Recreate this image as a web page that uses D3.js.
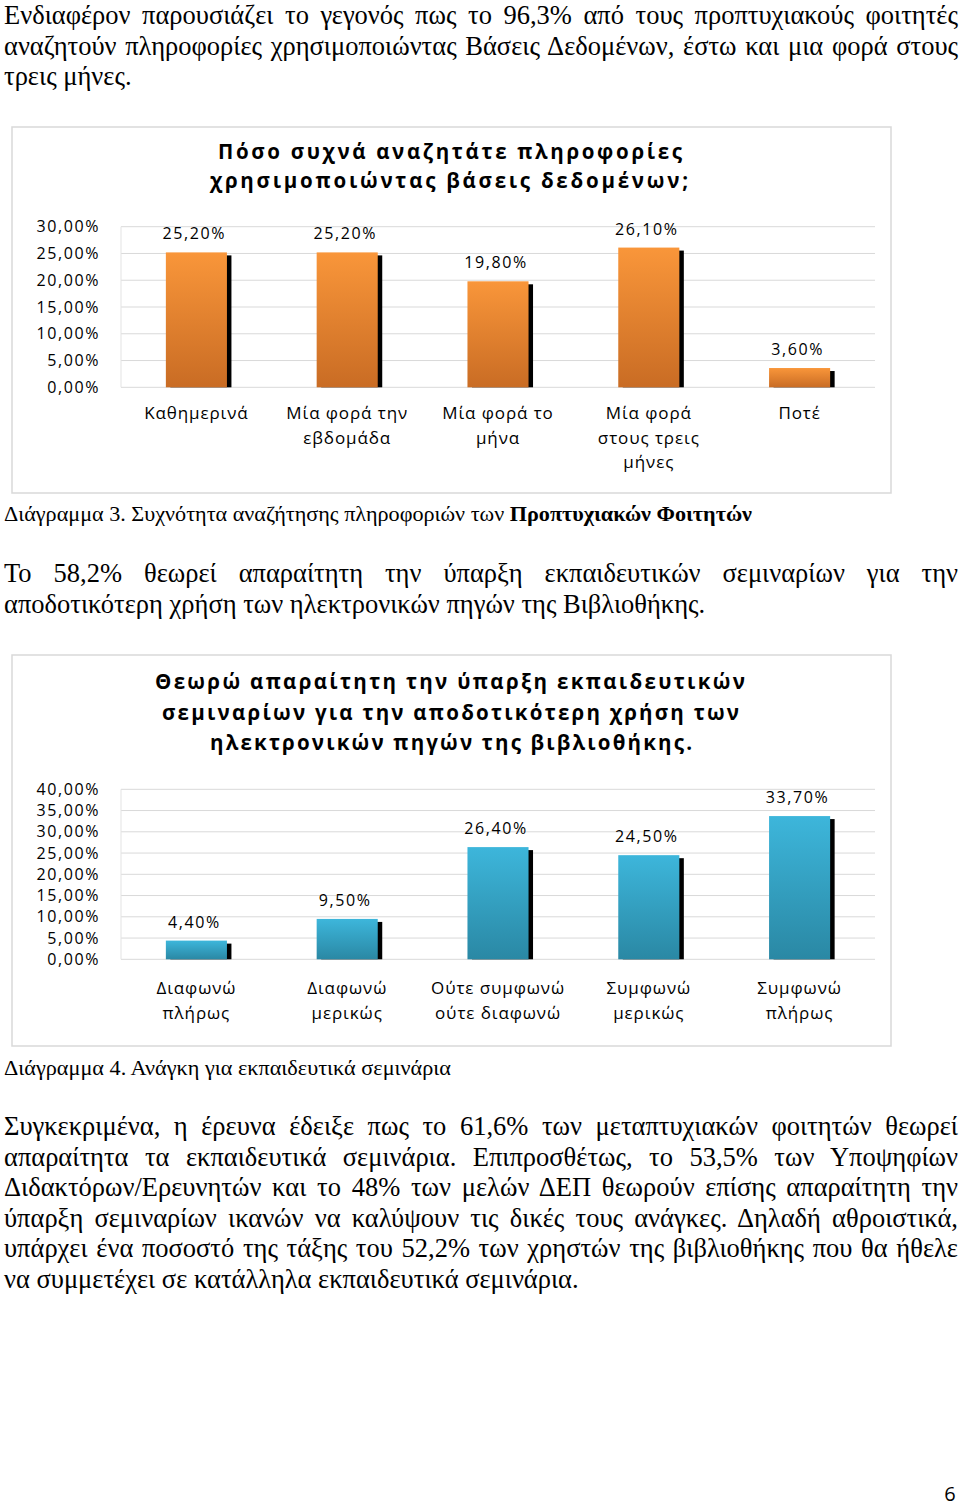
<!DOCTYPE html>
<html>
<head>
<meta charset="utf-8">
<script src="https://cdn.jsdelivr.net/npm/d3@7"></script>
<style>
  body { margin: 0; background: #fff; }
  svg { display: block; }
  .para { font-family: "Liberation Serif", "DejaVu Serif", serif; font-size: 26.5px; fill: #000; }
  .cap { font-family: "Liberation Serif", serif; font-size: 21px; fill: #000; }
  .chart text { font-family: "Open Sans", "DejaVu Sans", sans-serif; fill: #000; }
</style>
</head>
<body>
<div id="page"></div>
<script>
var para1 = [
  "Ενδιαφέρον παρουσιάζει το γεγονός πως το 96,3% από τους προπτυχιακούς φοιτητές",
  "αναζητούν πληροφορίες χρησιμοποιώντας Βάσεις Δεδομένων, έστω και μια φορά στους",
  "τρεις μήνες."
];
var para2 = [
  "Το 58,2% θεωρεί απαραίτητη την ύπαρξη εκπαιδευτικών σεμιναρίων για την",
  "αποδοτικότερη χρήση των ηλεκτρονικών πηγών της Βιβλιοθήκης."
];
var para3 = [
  "Συγκεκριμένα, η έρευνα έδειξε πως το 61,6% των μεταπτυχιακών φοιτητών θεωρεί",
  "απαραίτητα τα εκπαιδευτικά σεμινάρια. Επιπροσθέτως, το 53,5% των Υποψηφίων",
  "Διδακτόρων/Ερευνητών και το 48% των μελών ΔΕΠ θεωρούν επίσης απαραίτητη την",
  "ύπαρξη σεμιναρίων ικανών να καλύψουν τις δικές τους ανάγκες. Δηλαδή αθροιστικά,",
  "υπάρχει ένα ποσοστό της τάξης του 52,2% των χρηστών της βιβλιοθήκης που θα ήθελε",
  "να συμμετέχει σε κατάλληλα εκπαιδευτικά σεμινάρια."
];

var title1 = ["Πόσο συχνά αναζητάτε πληροφορίες", "χρησιμοποιώντας βάσεις δεδομένων;"];
var cats1 = [["Καθημερινά"], ["Μία φορά την", "εβδομάδα"], ["Μία φορά το", "μήνα"],
             ["Μία φορά", "στους τρεις", "μήνες"], ["Ποτέ"]];
var values1 = [25.2, 25.2, 19.8, 26.1, 3.6];
var ticks1 = [0, 5, 10, 15, 20, 25, 30];

var title2 = ["Θεωρώ απαραίτητη την ύπαρξη εκπαιδευτικών",
              "σεμιναρίων για την αποδοτικότερη χρήση των",
              "ηλεκτρονικών πηγών της βιβλιοθήκης."];
var cats2 = [["Διαφωνώ", "πλήρως"], ["Διαφωνώ", "μερικώς"], ["Ούτε συμφωνώ", "ούτε διαφωνώ"],
             ["Συμφωνώ", "μερικώς"], ["Συμφωνώ", "πλήρως"]];
var values2 = [4.4, 9.5, 26.4, 24.5, 33.7];
var ticks2 = [0, 5, 10, 15, 20, 25, 30, 35, 40];

var W = 960, H = 1508;
var svg = d3.select("#page").append("svg").attr("width", W).attr("height", H);

var defs = svg.append("defs");
function addGrad(id, top, bottom) {
  var g = defs.append("linearGradient").attr("id", id)
    .attr("x1", 0).attr("y1", 0).attr("x2", 0).attr("y2", 1);
  g.append("stop").attr("offset", "0%").attr("stop-color", top);
  g.append("stop").attr("offset", "100%").attr("stop-color", bottom);
}
addGrad("orange", "#f9963a", "#c96c24");
addGrad("blue", "#3db6db", "#2a88a4");

function fmt(v) {
  return v.toFixed(2).replace(".", ",") + "%";
}

// justified paragraph lines
function paragraph(lines, y0, lh) {
  lines.forEach(function(line, i) {
    var t = svg.append("text").attr("class", "para")
      .attr("x", 4).attr("y", y0 + i * lh).text(line);
    if (i < lines.length - 1) {
      var len = t.node().getComputedTextLength();
      var n = line.split(" ").length - 1;
      t.attr("word-spacing", (954 - len) / n);
    }
  });
}

paragraph(para1, 24, 30.5);
paragraph(para2, 582, 30.5);
paragraph(para3, 1135, 30.6);

function drawChart(opt) {
  var g = svg.append("g").attr("class", "chart");

  g.append("rect")
    .attr("x", opt.box[0]).attr("y", opt.box[1])
    .attr("width", opt.box[2] - opt.box[0]).attr("height", opt.box[3] - opt.box[1])
    .attr("fill", "#fff").attr("stroke", "#d9d9d9").attr("stroke-width", 1.5);

  opt.title.forEach(function(line, i) {
    g.append("text")
      .attr("x", opt.titleX[i][0]).attr("y", opt.titleY[i])
      .attr("textLength", opt.titleX[i][1] - opt.titleX[i][0])
      .attr("lengthAdjust", "spacing")
      .style("font-weight", "bold").style("font-size", "20.5px")
      .text(line);
  });

  var x = d3.scaleBand().domain(d3.range(opt.values.length)).range([121, 875]);
  var y = d3.scaleLinear().domain([0, d3.max(opt.ticks)]).range([opt.bottom, opt.top]);

  g.append("g").selectAll("line").data(opt.ticks).join("line")
    .attr("x1", 121).attr("x2", 875)
    .attr("y1", function(d) { return y(d); }).attr("y2", function(d) { return y(d); })
    .attr("stroke", "#d9d9d9").attr("stroke-width", 1);
  g.append("line").attr("x1", 121).attr("x2", 121)
    .attr("y1", y(d3.max(opt.ticks))).attr("y2", y(0))
    .attr("stroke", "#e3e3e3");

  var yAxis = d3.axisLeft(y).tickValues(opt.ticks).tickSize(0).tickPadding(0)
    .tickFormat(fmt);
  var ax = g.append("g").attr("transform", "translate(100,0)").call(yAxis);
  ax.select(".domain").remove();
  ax.selectAll("text")
    .style("font-family", "'Open Sans', sans-serif")
    .style("font-size", "16px").style("letter-spacing", "1.6px")
    .attr("fill", "#000");

  var bw = x.bandwidth() * 0.405;
  var bars = g.append("g").selectAll("g").data(opt.values).join("g");
  bars.append("rect")
    .attr("x", function(d, i) { return x(i) + x.bandwidth() / 2 - bw / 2 + 4.5; })
    .attr("y", function(d) { return y(d) + 3; })
    .attr("width", bw)
    .attr("height", function(d) { return Math.max(0, y(0) - y(d) - 3); })
    .attr("fill", "#000");
  bars.append("rect")
    .attr("x", function(d, i) { return x(i) + x.bandwidth() / 2 - bw / 2; })
    .attr("y", function(d) { return y(d); })
    .attr("width", bw)
    .attr("height", function(d) { return y(0) - y(d); })
    .attr("fill", "url(#" + opt.grad + ")");
  bars.append("text")
    .attr("x", function(d, i) { return x(i) + x.bandwidth() / 2 - 2; })
    .attr("y", function(d) { return y(d) - 13; })
    .attr("text-anchor", "middle")
    .style("font-size", "16px").style("letter-spacing", "1.6px")
    .text(function(d) { return fmt(d); });

  var labs = g.append("g").selectAll("text").data(opt.cats).join("text")
    .attr("text-anchor", "middle")
    .style("font-size", "17px").style("letter-spacing", "0.9px");
  labs.each(function(lines, i) {
    var t = d3.select(this);
    lines.forEach(function(l, j) {
      t.append("tspan")
        .attr("x", x(i) + x.bandwidth() / 2)
        .attr("y", opt.catY + j * 24.5)
        .text(l);
    });
  });
}

drawChart({
  box: [12, 127, 891, 493],
  title: title1,
  titleX: [[218, 682], [210, 688]],
  titleY: [159, 188],
  values: values1, ticks: ticks1, cats: cats1,
  top: 226.7, bottom: 387.3, catY: 419, grad: "orange"
});

drawChart({
  box: [12, 655, 891, 1046],
  title: title2,
  titleX: [[155, 745], [162, 739], [210, 692]],
  titleY: [689, 720, 750],
  values: values2, ticks: ticks2, cats: cats2,
  top: 789.3, bottom: 959.3, catY: 994, grad: "blue"
});

// captions
var c3 = svg.append("text").attr("class", "cap").attr("x", 4).attr("y", 521)
  .attr("textLength", 748).attr("lengthAdjust", "spacingAndGlyphs");
c3.append("tspan").text("Διάγραμμα 3. Συχνότητα αναζήτησης πληροφοριών των ");
c3.append("tspan").style("font-weight", "bold").text("Προπτυχιακών Φοιτητών");

svg.append("text").attr("class", "cap").attr("x", 4).attr("y", 1075)
  .attr("textLength", 447).attr("lengthAdjust", "spacingAndGlyphs")
  .text("Διάγραμμα 4. Ανάγκη για εκπαιδευτικά σεμινάρια");

svg.append("text").attr("x", 950).attr("y", 1501).attr("text-anchor", "middle")
  .style("font-family", "'Open Sans', sans-serif").style("font-size", "20px")
  .text("6");
</script>
</body>
</html>
